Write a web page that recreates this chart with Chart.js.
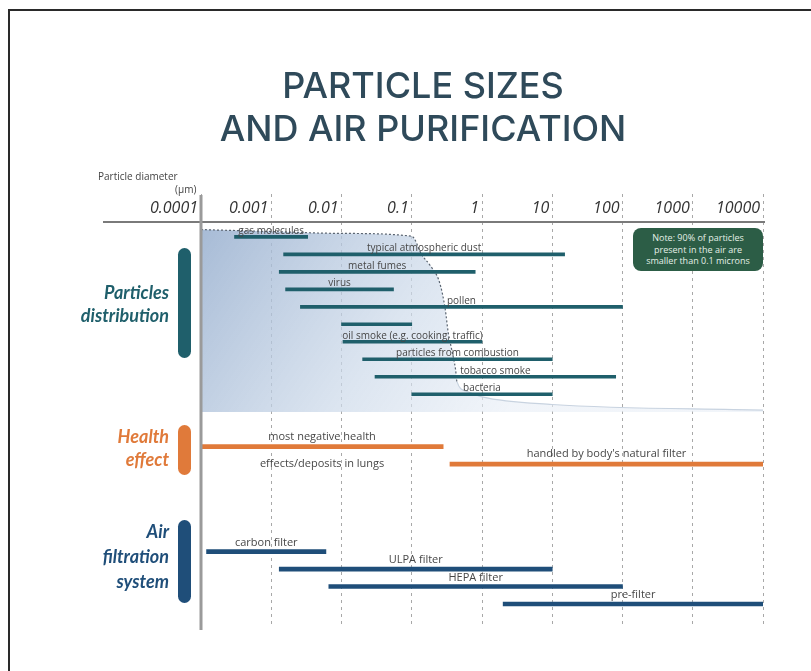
<!DOCTYPE html>
<html lang="en">
<head>
    <meta charset="UTF-8">
    <title>Particle Sizes and Air Purification</title>
    <script src="https://cdn.jsdelivr.net/npm/chart.js"></script>
    <style>
        body { margin: 0; background: #fff; font-family: "Open Sans", sans-serif; }
        #page { position: relative; width: 811px; height: 671px; overflow: hidden; }
        #frame { position: absolute; left: 8px; top: 9px; width: 820px; height: 700px;
                 border-top: 2px solid #2a2a2a; border-left: 2px solid #2a2a2a; }
        #chart { position: absolute; left: 0; top: 0; }
        .title { position: absolute; left: 0; width: 846px; text-align: center;
                 font-family: Inter, sans-serif; font-weight: 500; font-size: 36px; color: #2f4a5a; }
        .axis-name { position: absolute; font-size: 10px; color: #444; }
        .group { position: absolute; right: 642px; text-align: right; font-family: Lato, sans-serif;
                 font-weight: bold; font-style: italic; font-size: 18px; line-height: 23px; }
        .marker { position: absolute; left: 178px; width: 13px; border-radius: 7px; }
        #note { position: absolute; left: 633px; top: 228px; width: 130px; height: 43px; border-radius: 8px;
                background: #2c5d46; color: #e4efe7; font-size: 9px; line-height: 11.5px; text-align: center;
                box-sizing: border-box; padding-top: 4px; }
    </style>
</head>
<body>
<div id="page">
    <div id="frame"></div>
    <canvas id="chart" width="811" height="671"></canvas>

    <div class="title" style="top:63px;">PARTICLE SIZES</div>
    <div class="title" style="top:106px;">AND AIR PURIFICATION</div>

    <div class="axis-name" style="left:98px; top:169px;">Particle diameter</div>
    <div class="axis-name" style="left:175px; top:182px;">(μm)</div>

    <!-- group labels on the left -->
    <div class="group" style="top:281px; color:#1f5f6b;">Particles<br>distribution</div>
    <div class="marker" style="top:248px; height:110px; background:#1f5f6b;"></div>
    <div class="group" style="top:425px; color:#e07a3a;">Health<br>effect</div>
    <div class="marker" style="top:425px; height:50px; background:#e07a3a;"></div>
    <div class="group" style="top:519px; line-height:25px; color:#1f4e79;">Air<br>filtration<br>system</div>
    <div class="marker" style="top:520px; height:83px; background:#1f4e79;"></div>

    <div id="note">Note: 90% of particles<br>present in the air are<br>smaller than 0.1 microns</div>
</div>

<script>
    // particle diameter axis (µm)
    const tickValues = [0.0001, 0.001, 0.01, 0.1, 1, 10, 100, 1000, 10000];
    const tickLabels = ['0.0001', '0.001', '0.01', '0.1', '1', '10', '100', '1000', '10000'];

    // particles distribution ranges
    const particleNames = ['gas molecules', 'typical atmospheric dust', 'metal fumes', 'virus', 'pollen', '',
        'oil smoke (e.g. cooking, traffic)', 'particles from combustion', 'tobacco smoke', 'bacteria'];
    const particleStart = [0.0003, 0.0015, 0.0013, 0.0016, 0.0026, 0.01, 0.0105, 0.02, 0.03, 0.1];
    const particleEnd = [0.0033, 15, 0.8, 0.055, 100, 0.1, 1, 10, 80, 10];
    const particleRow = [1, 2, 3, 4, 5, 6, 7, 8, 9, 10];

    // health effect ranges
    const healthNames = [['most negative health', 'effects/deposits in lungs'], ["handled by body's natural filter"]];
    const healthStart = [0.0001, 0.35];
    const healthEnd = [0.28, 10000];
    const healthRow = [13, 14];

    // air filtration systems
    const filterNames = ['carbon filter', 'ULPA filter', 'HEPA filter', 'pre-filter'];
    const filterStart = [0.00012, 0.0013, 0.0066, 2];
    const filterEnd = [0.006, 10, 100, 10000];
    const filterRow = [19, 20, 21, 22];

    // share of particles (%) at or above each diameter
    const distSize = [0.0001, 0.001, 0.01, 0.1, 0.14, 0.18, 0.25, 0.3, 0.33, 0.37, 0.42, 0.44, 0.6, 1, 10, 10000];
    const distShare = [96, 95, 94, 92.5, 82.5, 77.5, 68, 54, 42, 33, 22.5, 16, 11, 8, 4, 1];

    function ranges(start, end, row) {
        return start.map((s, i) => ({ y: row[i], x: [s, end[i]] }));
    }

    function areaFill(context) {
        const chart = context.chart;
        const a = chart.chartArea;
        if (!a) return 'rgba(180,198,222,0.7)';
        const g = chart.ctx.createLinearGradient(a.left, a.top, a.left + 300, a.top + 200);
        g.addColorStop(0, 'rgba(150,174,206,0.85)');
        g.addColorStop(0.6, 'rgba(205,218,234,0.7)');
        g.addColorStop(1, 'rgba(232,238,246,0.6)');
        return g;
    }

    // text above / below each range bar
    const barLabels = {
        id: 'barLabels',
        afterDatasetsDraw(chart) {
            const ctx = chart.ctx;
            ctx.save();
            ctx.textAlign = 'center';
            ctx.textBaseline = 'alphabetic';
            chart.data.datasets.forEach((ds, di) => {
                if (!ds.names) return;
                ctx.font = ds.labelFont;
                ctx.fillStyle = '#474747';
                chart.getDatasetMeta(di).data.forEach((bar, i) => {
                    const lines = [].concat(ds.names[i]);
                    const cx = (bar.x + bar.base) / 2;
                    ctx.fillText(lines[0], cx, bar.y - ds.labelAbove);
                    if (lines[1]) ctx.fillText(lines[1], cx, bar.y + 20);
                });
            });
            ctx.restore();
        }
    };

    // axis rule under the tick labels and the vertical zero line
    const axisLines = {
        id: 'axisLines',
        afterDatasetsDraw(chart) {
            const ctx = chart.ctx;
            const a = chart.chartArea;
            ctx.save();
            ctx.strokeStyle = '#7a7a7a';
            ctx.lineWidth = 2;
            ctx.beginPath();
            ctx.moveTo(103, a.top);
            ctx.lineTo(a.right + 2, a.top);
            ctx.stroke();
            ctx.strokeStyle = '#9a9a9a';
            ctx.lineWidth = 3;
            ctx.beginPath();
            ctx.moveTo(a.left, a.top - 27);
            ctx.lineTo(a.left, a.bottom + 5);
            ctx.stroke();
            ctx.restore();
        }
    };

    new Chart(document.getElementById('chart'), {
        type: 'bar',
        data: {
            datasets: [
                {
                    label: 'Particles distribution',
                    data: ranges(particleStart, particleEnd, particleRow),
                    names: particleNames,
                    labelFont: '10px "Open Sans"',
                    labelAbove: 3,
                    backgroundColor: '#1f5f6b',
                    barThickness: 3,
                    order: 0
                },
                {
                    label: 'Health effect',
                    data: ranges(healthStart, healthEnd, healthRow),
                    names: healthNames,
                    labelFont: '11px "Open Sans"',
                    labelAbove: 7,
                    backgroundColor: '#e07a3a',
                    barThickness: 4,
                    order: 0
                },
                {
                    label: 'Air filtration system',
                    data: ranges(filterStart, filterEnd, filterRow),
                    names: filterNames,
                    labelFont: '11px "Open Sans"',
                    labelAbove: 6,
                    backgroundColor: '#1f4e79',
                    barThickness: 4,
                    order: 0
                },
                {
                    type: 'line',
                    label: 'Distribution',
                    indexAxis: 'x',
                    xAxisID: 'x',
                    yAxisID: 'yArea',
                    data: distSize.map((s, i) => ({ x: s, y: distShare[i] })),
                    fill: 'origin',
                    backgroundColor: areaFill,
                    borderWidth: 1.2,
                    borderColor: '#5a6470',
                    borderDash: [2, 2],
                    segment: {
                        borderColor: c => c.p0.parsed.x >= 0.44 ? '#c8d3e0' : '#5a6470',
                        borderDash: c => c.p0.parsed.x >= 0.44 ? [] : [2, 2]
                    },
                    cubicInterpolationMode: 'monotone',
                    pointRadius: 0,
                    order: 10
                }
            ]
        },
        options: {
            indexAxis: 'y',
            responsive: false,
            animation: false,
            layout: { padding: { left: 201, right: 48, top: 192, bottom: 46 } },
            datasets: { bar: { grouped: false } },
            plugins: { legend: { display: false }, tooltip: { enabled: false } },
            scales: {
                x: {
                    type: 'logarithmic',
                    position: 'top',
                    min: 0.0001,
                    max: 10000,
                    afterBuildTicks: s => { s.ticks = tickValues.map(v => ({ value: v })); },
                    afterFit: s => { s.height = 30; },
                    border: { display: false, dash: [3, 4] },
                    grid: {
                        color: '#a8a8a8',
                        lineWidth: 1,
                        drawTicks: true,
                        tickLength: 28,
                        tickColor: '#a8a8a8',
                        tickBorderDash: [3, 4]
                    },
                    ticks: {
                        align: 'end',
                        padding: -24,
                        labelOffset: -3,
                        maxRotation: 0,
                        autoSkip: false,
                        color: '#333',
                        font: { family: '"Open Sans"', size: 16, style: 'italic' },
                        callback: (v, i) => tickLabels[i]
                    }
                },
                y: {
                    type: 'linear',
                    display: false,
                    offset: false,
                    reverse: true,
                    min: 0.15,
                    max: 23.2
                },
                yArea: {
                    axis: 'y',
                    type: 'linear',
                    display: false,
                    offset: false,
                    min: -112,
                    max: 100
                }
            }
        },
        plugins: [barLabels, axisLines]
    });
</script>
</body>
</html>
